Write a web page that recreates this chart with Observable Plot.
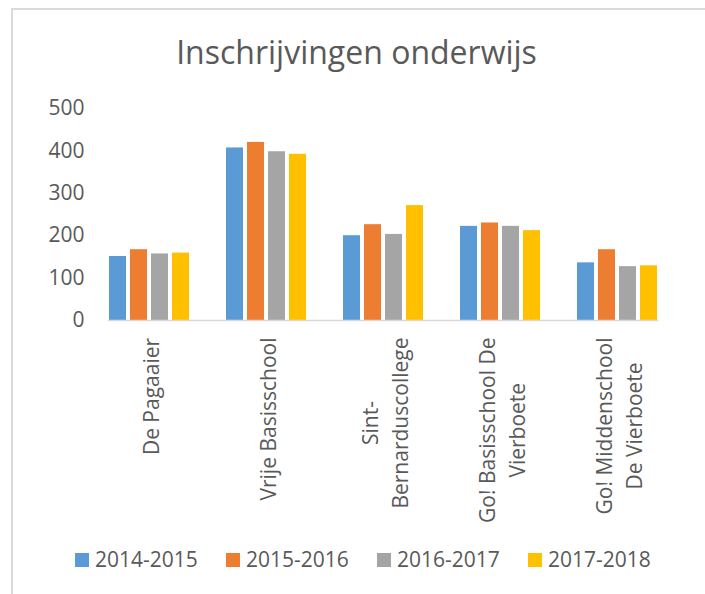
<!DOCTYPE html>
<html>
<head>
<meta charset="utf-8">
<script src="https://cdn.jsdelivr.net/npm/d3@7"></script>
<script src="https://cdn.jsdelivr.net/npm/@observablehq/plot@0.6"></script>
<style>
  html, body { margin: 0; padding: 0; background: #fff; }
  body { position: relative; width: 705px; height: 594px; overflow: hidden; font-family: "Open Sans", sans-serif; color: #595959; }
  #box { position: absolute; left: 11px; top: 8px; width: 700px; height: 700px; border: 2px solid #dadada; box-sizing: border-box; }
  #chart { position: absolute; left: 0; top: 0; }
  #title { position: absolute; left: 4px; width: 705px; top: 36px; text-align: center; font-size: 32px; line-height: 32px; white-space: nowrap; }
  #legend { position: absolute; left: 75px; top: 549px; font-size: 21px; line-height: 21px; white-space: nowrap; }
  .item { display: inline-block; width: 151px; }
  .sw { display: inline-block; width: 14px; height: 14px; margin-right: 6px; vertical-align: baseline; }
</style>
</head>
<body>
<div id="box"></div>
<div id="chart"></div>
<div id="title">Inschrijvingen onderwijs</div>
<div id="legend"></div>
<script>
const schools = ["De Pagaaier", "Vrije Basisschool", "Sint-Bernarduscollege", "Go! Basisschool De Vierboete", "Go! Middenschool De Vierboete"];
const schoolLabels = ["De Pagaaier", "Vrije Basisschool", "Sint-\nBernarduscollege", "Go! Basisschool De\nVierboete", "Go! Middenschool\nDe Vierboete"];
const years = ["2014-2015", "2015-2016", "2016-2017", "2017-2018"];
const v20142015 = [151, 407, 200, 222, 136];
const v20152016 = [167, 420, 226, 230, 167];
const v20162017 = [157, 398, 203, 222, 127];
const v20172018 = [159, 392, 271, 212, 129];
const yTicks = [0, 100, 200, 300, 400, 500];
const colors = ["#5B9BD5", "#ED7D31", "#A5A5A5", "#FFC000"];

const series = [v20142015, v20152016, v20162017, v20172018];
const data = schools.flatMap((s, i) => years.map((y, j) => ({school: s, year: y, value: series[j][i]})));

const plot = Plot.plot({
  width: 705,
  height: 594,
  marginTop: 108,
  marginBottom: 274,
  marginLeft: 88,
  marginRight: 28,
  style: {fontFamily: "Open Sans", fontSize: "21px", color: "#595959", background: "transparent", overflow: "visible"},
  fx: {domain: schools, paddingInner: 0.31, paddingOuter: 0.155, axis: null, label: null},
  x: {domain: years, paddingInner: 0.2, paddingOuter: 0, axis: null},
  y: {domain: [0, 500], axis: null},
  color: {domain: years, range: colors},
  marks: [
    Plot.axisY({ticks: yTicks, tickSize: 0, tickPadding: 24, label: null, fontSize: 21, fill: "#595959"}),
    Plot.barY(data, {fx: "school", x: "year", y: "value", fill: "year"}),
    Plot.frame({anchor: "bottom", facet: "super", stroke: "#d9d9d9", strokeWidth: 1.5}),
    Plot.text(schools, {
      fx: d => d,
      text: d => schoolLabels[schools.indexOf(d)],
      frameAnchor: "bottom",
      rotate: -90,
      textAnchor: "middle",
      lineAnchor: "middle",
      lineHeight: 1.43,
      fontSize: 21,
      fill: "#595959"
    })
  ]
});
document.getElementById("chart").appendChild(plot);

// anchor rotated category labels at their top, lines centred within each block
const topGap = 17;
plot.querySelectorAll('g[aria-label="text"] text').forEach(t => {
  const b = t.getBBox();
  const tx = -(b.x + b.width) - topGap;
  t.setAttribute("transform", (t.getAttribute("transform") || "") + ` translate(${tx},0)`);
});

const legend = document.getElementById("legend");
years.forEach((y, j) => {
  const item = document.createElement("span");
  item.className = "item";
  const sw = document.createElement("span");
  sw.className = "sw";
  sw.style.background = colors[j];
  item.appendChild(sw);
  item.appendChild(document.createTextNode(y));
  legend.appendChild(item);
});
</script>
</body>
</html>
